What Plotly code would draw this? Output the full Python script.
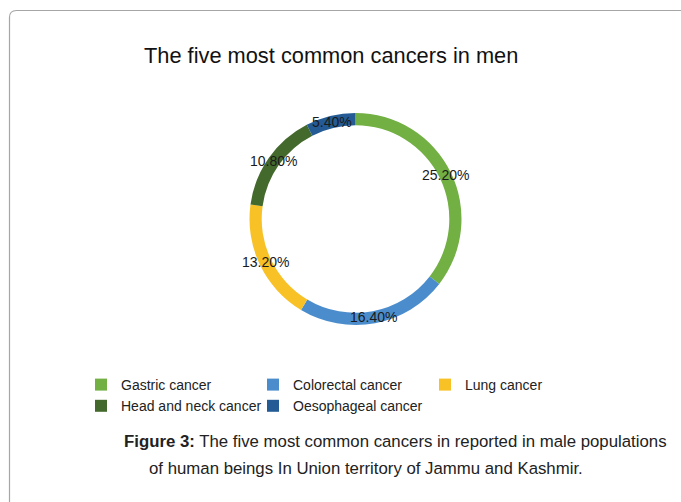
import math
import plotly.graph_objects as go

# Five most common cancers in men (percent of reported cases)
cancers = ["Gastric cancer", "Colorectal cancer", "Lung cancer",
           "Head and neck cancer", "Oesophageal cancer"]
percent = [25.20, 16.40, 13.20, 10.80, 5.40]
slice_colors = ["#72b043", "#4b8dcc", "#f8c125", "#44692d", "#245b94"]

W, H = 681, 502
FONT = "Liberation Sans, Arial, sans-serif"

# ring geometry in pixels
cx, cy, R = 355.5, 219.0, 106.0
label_r = 100.0

fig = go.Figure(go.Pie(
    labels=cancers,
    values=percent,
    hole=0.885,
    sort=False,
    direction="clockwise",
    rotation=0,
    marker=dict(colors=slice_colors, line=dict(width=0)),
    textinfo="none",
    hoverinfo="label+value",
    domain=dict(x=[(cx - R) / W, (cx + R) / W],
                y=[1 - (cy + R) / H, 1 - (cy - R) / H]),
))

# value labels centred on the ring at each slice's mid-angle
total = sum(percent)
annotations = []
cum = 0.0
for v in percent:
    mid = (cum + v / 2) / total * 2 * math.pi
    cum += v
    px = cx + label_r * math.sin(mid)
    py = cy - label_r * math.cos(mid)
    annotations.append(dict(
        x=px / W, y=1 - py / H, xref="paper", yref="paper",
        text=f"{v:.2f}%", showarrow=False,
        xanchor="center", yanchor="middle",
        font=dict(family=FONT, size=14, color="#1a1a1a"),
    ))

# chart title
annotations.append(dict(
    x=331 / W, y=1 - 55 / H, xref="paper", yref="paper",
    text="The five most common cancers in men", showarrow=False,
    xanchor="center", yanchor="middle",
    font=dict(family=FONT, size=21.8, color="#111111"),
))

# figure caption
annotations.append(dict(
    x=122 / W, y=1 - 441 / H, xref="paper", yref="paper",
    text="<b>Figure 3:</b> The five most common cancers in reported in male populations",
    showarrow=False, xanchor="left", yanchor="middle",
    font=dict(family=FONT, size=16.8, color="#222222"),
))
annotations.append(dict(
    x=147 / W, y=1 - 468 / H, xref="paper", yref="paper",
    text="of human beings In Union territory of Jammu and Kashmir.",
    showarrow=False, xanchor="left", yanchor="middle",
    font=dict(family=FONT, size=16.8, color="#222222"),
))

# rounded panel border (opens to the right and bottom)
r = 7
x0, y0 = 9.5, 10.5
frame_path = (
    f"M {x0 / W} {1 - (H + 5) / H} L {x0 / W} {1 - (y0 + r) / H} "
    f"Q {x0 / W} {1 - y0 / H} {(x0 + r) / W} {1 - y0 / H} "
    f"L {(W + 5) / W} {1 - y0 / H}"
)

fig.update_layout(
    width=W, height=H,
    margin=dict(l=0, r=0, t=0, b=0),
    paper_bgcolor="white",
    plot_bgcolor="white",
    font=dict(family=FONT, size=14, color="#222222"),
    showlegend=True,
    legend=dict(
        orientation="h",
        x=81 / W, y=1 - 369 / H, xanchor="left", yanchor="top",
        entrywidth=127, entrywidthmode="pixels",
        font=dict(family=FONT, size=14, color="#222222"),
        bgcolor="rgba(0,0,0,0)",
    ),
    annotations=annotations,
    shapes=[dict(
        type="path", path=frame_path, xref="paper", yref="paper",
        line=dict(color="#a6a6a6", width=1.2),
    )],
)

fig.write_html("out.html")
